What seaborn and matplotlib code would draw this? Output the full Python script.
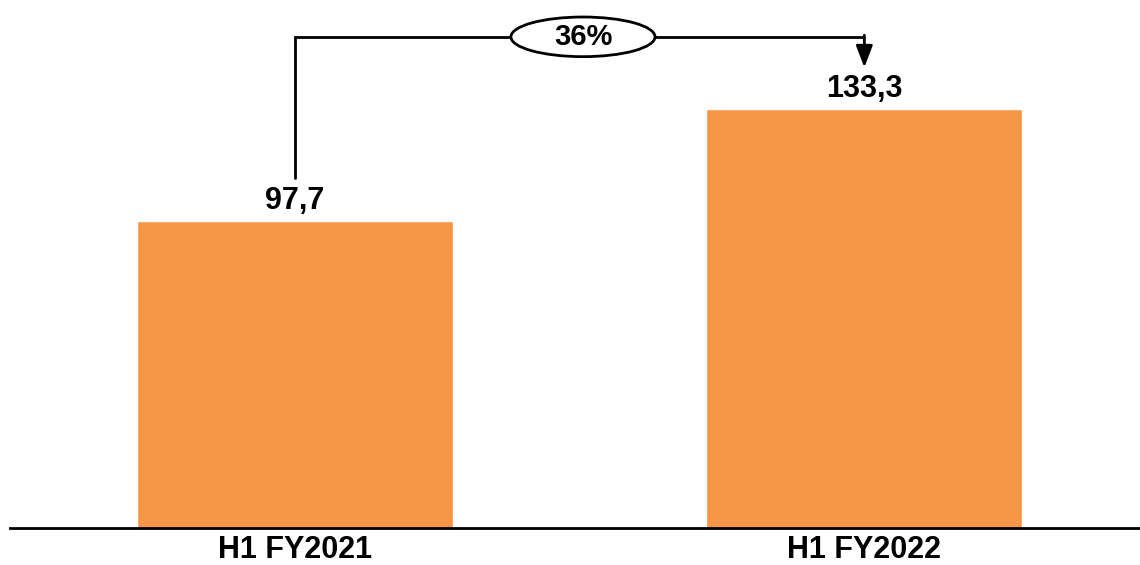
import matplotlib
matplotlib.use("Agg")
import matplotlib.pyplot as plt
import seaborn as sns
import pandas as pd
from matplotlib.patches import Ellipse

categories = ["H1 FY2021", "H1 FY2022"]
values = [97.7, 133.3]
value_labels = ["97,7", "133,3"]
growth_label = "36%"

sns.set_theme(style="white")
plt.rcParams['font.family'] = ['Liberation Sans', 'DejaVu Sans']

df = pd.DataFrame({"cat": categories, "val": values})

fig = plt.figure(figsize=(11.4, 5.65), dpi=100)
ax = fig.add_axes([10/1140, 37/565, 1130/1140, 528/565])

sns.barplot(data=df, x="cat", y="val", color="#F79646", saturation=1,
            width=0.555, ax=ax)

ax.set_xlim(-0.5, 1.484)
ax.set_ylim(0, 167.8)
for s in ["top", "right", "left"]:
    ax.spines[s].set_visible(False)
ax.spines["bottom"].set_color("black")
ax.spines["bottom"].set_linewidth(2)
ax.set_yticks([])
ax.set_xlabel("")
ax.set_ylabel("")
ax.tick_params(axis="x", length=0, pad=5)
for t in ax.get_xticklabels():
    t.set_fontsize(22)
    t.set_fontweight("bold")
    t.set_color("black")

for i, (v, lab) in enumerate(zip(values, value_labels)):
    ax.annotate(lab, (i, v), xytext=(0, 3), textcoords="offset points",
                ha="center", va="bottom", fontsize=22, fontweight="bold",
                color="black")

vmax = max(values)
y_line = vmax * 1.171
y_start = values[0] * 1.14
y_tip = vmax * 1.098
ax.plot([0, 0, 1], [y_start, y_line, y_line], color="black", lw=2,
        solid_joinstyle="miter", zorder=3)
ax.annotate("", xy=(1, y_tip), xytext=(1, y_line + 0.5),
            arrowprops=dict(arrowstyle="-|>,head_width=0.42,head_length=1.1",
                            color="black", lw=2, shrinkA=0, shrinkB=0),
            zorder=3)
ell = Ellipse((0.506, y_line), width=0.253, height=12.6, facecolor="white",
              edgecolor="black", lw=2, zorder=4, clip_on=False)
ax.add_patch(ell)
ax.text(0.506, y_line, growth_label, ha="center", va="center", fontsize=21,
        fontweight="bold", color="black", zorder=5)

fig.savefig("out.png", dpi=100)
